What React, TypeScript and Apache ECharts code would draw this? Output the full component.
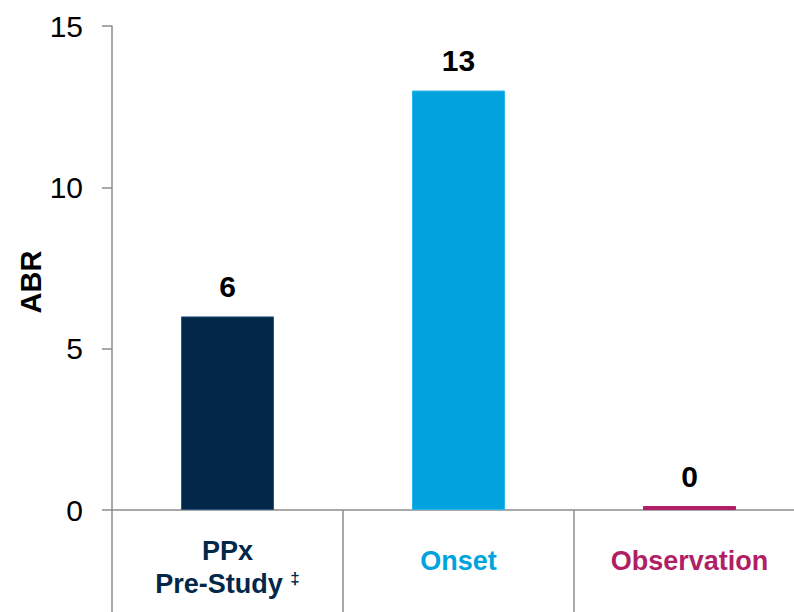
import React, { useEffect, useRef } from "react";
import * as echarts from "echarts";

const categories = ["PPx\nPre-Study", "Onset", "Observation"];
const values = [6, 13, 0];
const barColors = ["#022749", "#00A3DD", "#B01F65"];
const barBorders = ["#2F5480", "#2AB6EE", "#B01F65"];
const yTicks = { min: 0, max: 15, interval: 5 };
const yAxisTitle = "ABR";

const FONT = "'Liberation Sans', Arial, sans-serif";
const GRAY = "#8C8C8C";

export default function App() {
  const ref = useRef<HTMLDivElement>(null);
  useEffect(() => {
    if (!ref.current) return;
    const chart = echarts.init(ref.current, null, { renderer: "svg" });
    chart.setOption({
      animation: false,
      backgroundColor: "#ffffff",
      grid: {
        left: 112,
        top: 26,
        height: 484,
        width: 693,
        containLabel: false,
        outerBoundsMode: "none",
      },
      xAxis: {
        type: "category",
        data: categories,
        axisLine: { lineStyle: { color: GRAY, width: 1.5 } },
        axisTick: { show: true, length: 104, lineStyle: { color: GRAY, width: 1.5 } },
        axisLabel: {
          margin: 24,
          interval: 0,
          fontFamily: FONT,
          formatter: (_v: string, idx: number) => {
            if (idx === 0) return "{n|PPx}\n{n|Pre-Study }{sup|‡}";
            if (idx === 1) return "{c|Onset}";
            return "{m|Observation}";
          },
          rich: {
            n: { color: "#022749", fontSize: 27, fontWeight: "bold", lineHeight: 33, fontFamily: FONT },
            sup: { color: "#022749", fontSize: 17, fontWeight: "bold", lineHeight: 33, verticalAlign: "top", padding: [3, 0, 0, 0], fontFamily: FONT },
            c: { color: "#00A3DD", fontSize: 27, fontWeight: "bold", lineHeight: 54, fontFamily: FONT },
            m: { color: "#B01F65", fontSize: 27, fontWeight: "bold", lineHeight: 54, fontFamily: FONT },
          },
        },
        splitLine: { show: false },
      },
      yAxis: {
        type: "value",
        min: yTicks.min,
        max: yTicks.max,
        interval: yTicks.interval,
        axisLine: { show: true, lineStyle: { color: GRAY, width: 1.5 } },
        axisTick: { show: true, length: 10, lineStyle: { color: GRAY, width: 1.5 } },
        axisLabel: { color: "#000", fontSize: 30, fontFamily: FONT, margin: 29 },
        splitLine: { show: false },
      },
      graphic: [
        {
          type: "text",
          x: 31,
          y: 282,
          rotation: Math.PI / 2,
          style: {
            text: yAxisTitle,
            align: "center",
            verticalAlign: "middle",
            fontSize: 29,
            fontWeight: "bold",
            fontFamily: FONT,
            fill: "#000",
          },
        },
      ],
      series: [
        {
          type: "bar",
          barWidth: 93,
          barMinHeight: 4,
          data: values.map((v, i) => ({
            value: v,
            itemStyle: { color: barColors[i], borderColor: barBorders[i], borderWidth: 1 },
          })),
          label: {
            show: true,
            position: "top",
            distance: 15,
            color: "#000",
            fontSize: 30,
            fontWeight: "bold",
            fontFamily: FONT,
          },
        },
      ],
    });
    return () => chart.dispose();
  }, []);
  return (
    <div
      ref={ref}
      style={{ position: "fixed", left: 0, top: 0, width: 794, height: 612 }}
    />
  );
}
